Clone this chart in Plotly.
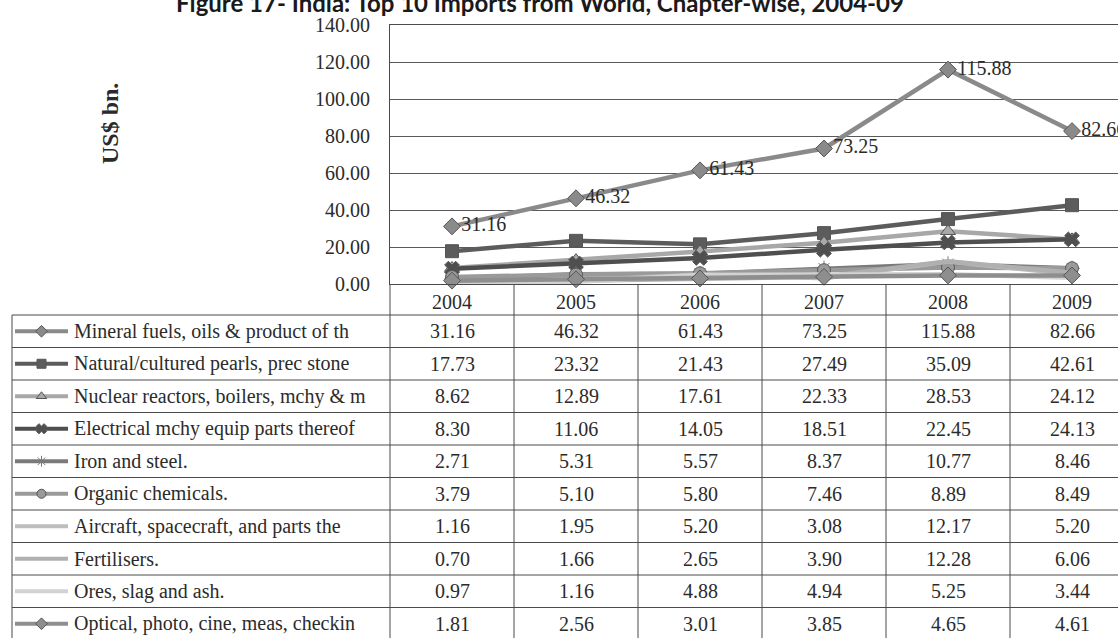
import plotly.graph_objects as go

# ---- data (the table gives the exact values) ----
years = ["2004", "2005", "2006", "2007", "2008", "2009"]

names = [
    "Mineral fuels, oils & product of th",
    "Natural/cultured pearls, prec stone",
    "Nuclear reactors, boilers, mchy & m",
    "Electrical mchy equip parts thereof",
    "Iron and steel.",
    "Organic chemicals.",
    "Aircraft, spacecraft, and parts the",
    "Fertilisers.",
    "Ores, slag and ash.",
    "Optical, photo, cine, meas, checkin",
]

mineral_fuels = [31.16, 46.32, 61.43, 73.25, 115.88, 82.66]
pearls_stones = [17.73, 23.32, 21.43, 27.49, 35.09, 42.61]
nuclear_mchy = [8.62, 12.89, 17.61, 22.33, 28.53, 24.12]
electrical_mchy = [8.30, 11.06, 14.05, 18.51, 22.45, 24.13]
iron_steel = [2.71, 5.31, 5.57, 8.37, 10.77, 8.46]
organic_chem = [3.79, 5.10, 5.80, 7.46, 8.89, 8.49]
aircraft = [1.16, 1.95, 5.20, 3.08, 12.17, 5.20]
fertilisers = [0.70, 1.66, 2.65, 3.90, 12.28, 6.06]
ores_slag = [0.97, 1.16, 4.88, 4.94, 5.25, 3.44]
optical = [1.81, 2.56, 3.01, 3.85, 4.65, 4.61]

series = [mineral_fuels, pearls_stones, nuclear_mchy, electrical_mchy, iron_steel,
          organic_chem, aircraft, fertilisers, ores_slag, optical]

y_ticks = [0, 20, 40, 60, 80, 100, 120, 140]

# ---- styling ----
colors = ["#8a8a8a", "#5c5c5c", "#a8a8a8", "#4f4f4f", "#7a7a7a",
          "#9a9a9a", "#bdbdbd", "#b0b0b0", "#d2d2d2", "#8e8e8e"]
symbols = ["diamond", "square", "triangle-up", "x", "asterisk-open",
           "circle", None, None, None, "diamond"]

SERIF = "Liberation Serif, Times New Roman, serif"
TXT = "#2b2b2b"
LINE = "#4a4a4a"

W, H = 1118, 638
PLOT_L, PLOT_T, PLOT_B = 390, 25, 284
COL_W = 124
ROW_TOP, ROW_H = 315, 32.5
TABLE_L = 12


def px(x):
    return x / W


def py(y):
    return 1 - y / H


fig = go.Figure()

# chart lines
for i, vals in enumerate(series):
    sym = symbols[i]
    mode = "lines+markers" if sym else "lines"
    kw = {}
    if i == 0:
        mode += "+text"
        kw = dict(text=[f"{v:.2f}" for v in vals], textposition="middle right",
                  textfont=dict(family=SERIF, size=20, color=TXT))
    fig.add_trace(go.Scatter(
        x=years, y=vals, mode=mode, name=names[i],
        line=dict(color=colors[i], width=4.5),
        marker=dict(symbol=sym or "circle", size=13, color=colors[i],
                    line=dict(color="#555555", width=1)),
        cliponaxis=False, showlegend=False, **kw,
    ))

# legend keys drawn inside the table (pixel-like overlay axes)
for i in range(len(series)):
    yc = ROW_TOP + ROW_H * (i + 0.5)
    fig.add_trace(go.Scatter(
        x=[15, 68], y=[yc, yc], mode="lines", xaxis="x2", yaxis="y2",
        line=dict(color=colors[i], width=4), showlegend=False, hoverinfo="skip",
    ))
    if symbols[i]:
        fig.add_trace(go.Scatter(
            x=[41.5], y=[yc], mode="markers", xaxis="x2", yaxis="y2",
            marker=dict(symbol=symbols[i], size=9, color=colors[i],
                        line=dict(color="#555555", width=1)),
            showlegend=False, hoverinfo="skip",
        ))

# table grid
shapes = []
for k in range(len(series)):
    y = ROW_TOP + ROW_H * k
    shapes.append(dict(type="line", xref="paper", yref="paper",
                       x0=px(TABLE_L), x1=1, y0=py(y), y1=py(y),
                       line=dict(color=LINE, width=1)))
shapes.append(dict(type="line", xref="paper", yref="paper",
                   x0=px(TABLE_L), x1=px(TABLE_L), y0=py(ROW_TOP), y1=0,
                   line=dict(color=LINE, width=1)))
for j in range(len(years)):
    x = PLOT_L + COL_W * j
    shapes.append(dict(type="line", xref="paper", yref="paper",
                       x0=px(x), x1=px(x), y0=py(PLOT_B), y1=0,
                       line=dict(color=LINE, width=1)))

# table text
annotations = []
for i, vals in enumerate(series):
    yc = ROW_TOP + ROW_H * (i + 0.5)
    annotations.append(dict(xref="paper", yref="paper", x=px(72), y=py(yc),
                            xanchor="left", yanchor="middle", text=names[i],
                            showarrow=False, font=dict(family=SERIF, size=20, color=TXT)))
    for j, v in enumerate(vals):
        annotations.append(dict(xref="paper", yref="paper",
                                x=px(PLOT_L + COL_W * (j + 0.5)), y=py(yc),
                                xanchor="center", yanchor="middle", text=f"{v:.2f}",
                                showarrow=False, font=dict(family=SERIF, size=20, color=TXT)))

annotations.append(dict(xref="paper", yref="paper", x=px(540), y=py(3),
                        xanchor="center", yanchor="middle",
                        text="<b>Figure 17- India: Top 10 Imports from World, Chapter-wise, 2004-09</b>",
                        showarrow=False, font=dict(family="Lato, Open Sans, sans-serif",
                                                   size=24, color="#1a1a1a")))
annotations.append(dict(xref="paper", yref="paper", x=px(110), y=py(124),
                        xanchor="center", yanchor="middle", text="<b>US$ bn.</b>",
                        textangle=-90, showarrow=False,
                        font=dict(family=SERIF, size=24, color=TXT)))

fig.update_layout(
    width=W, height=H,
    margin=dict(l=0, r=0, t=0, b=0, autoexpand=False),
    paper_bgcolor="white", plot_bgcolor="rgba(0,0,0,0)",
    xaxis=dict(
        domain=[px(PLOT_L), 1], type="category", automargin=False,
        range=[-0.5, -0.5 + (W - PLOT_L) / COL_W],
        showline=True, mirror=True, linecolor=LINE, linewidth=1,
        showgrid=False, ticks="", ticklabelstandoff=0,
        tickfont=dict(family=SERIF, size=20, color=TXT),
    ),
    yaxis=dict(
        domain=[py(PLOT_B), py(PLOT_T)], range=[0, 140], automargin=False,
        tickvals=y_ticks, tickformat=".2f",
        showline=True, linecolor=LINE, linewidth=1,
        showgrid=True, gridcolor="#5a5a5a", gridwidth=1, zeroline=False,
        ticks="", ticklabelstandoff=15,
        tickfont=dict(family=SERIF, size=20, color=TXT),
    ),
    xaxis2=dict(domain=[0, 1], range=[0, W], visible=False, anchor="y2",
                fixedrange=True, automargin=False),
    yaxis2=dict(domain=[0, 1], range=[H, 0], visible=False, anchor="x2",
                fixedrange=True, automargin=False),
    shapes=shapes,
    annotations=annotations,
)

fig.write_html("out.html", config={"displayModeBar": False},
               post_script="document.body.style.margin='0';")
